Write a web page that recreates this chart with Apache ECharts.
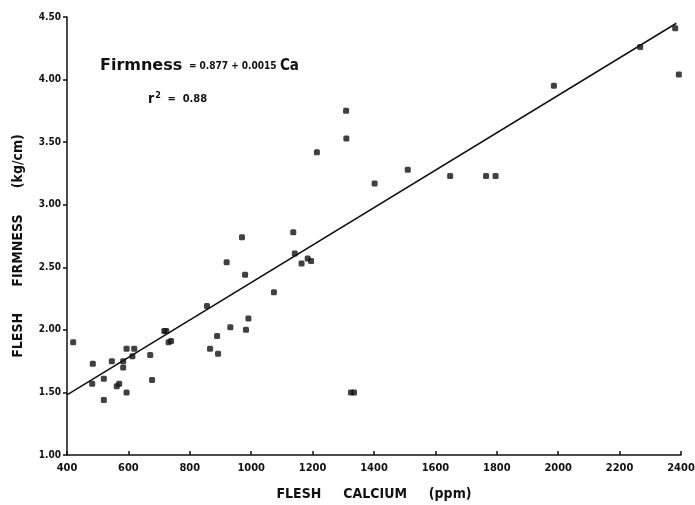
<!DOCTYPE html>
<html>
<head>
<meta charset="utf-8">
<script src="https://cdn.jsdelivr.net/npm/echarts@6/dist/echarts.min.js"></script>
<style>
  html, body { margin: 0; padding: 0; background: #fff; }
  #chart { width: 695px; height: 505px; }
</style>
</head>
<body>
<div id="chart"></div>
<script>
// flesh calcium (ppm) and flesh firmness (kg/cm)
const calcium = [420, 484, 482, 520, 520, 546, 562, 570, 583, 583,
  594, 594, 613, 619, 671, 677, 717, 723, 731, 739,
  856, 866, 889, 892, 920, 932, 970, 980, 983, 991,
  1074, 1137, 1142, 1164, 1184, 1195, 1214, 1310, 1309, 1325,
  1335, 1402, 1510, 1648, 1765, 1796, 1986, 2267, 2381, 2393]
const firmness = [1.90, 1.73, 1.57, 1.61, 1.44, 1.75, 1.55, 1.57, 1.75, 1.70,
  1.50, 1.85, 1.79, 1.85, 1.80, 1.60, 1.99, 1.99, 1.90, 1.91,
  2.19, 1.85, 1.95, 1.81, 2.54, 2.02, 2.74, 2.44, 2.00, 2.09,
  2.30, 2.78, 2.61, 2.53, 2.57, 2.55, 3.42, 3.53, 3.75, 1.50,
  1.50, 3.17, 3.28, 3.23, 3.23, 3.23, 3.95, 4.26, 4.41, 4.04]
// regression line end points
const fitX = [400, 2385]
const fitY = [1.48, 4.45]

const font = 'DejaVu Sans Condensed'

const points = calcium.map((c, i) => [c, firmness[i]])
const fit = fitX.map((x, i) => [x, fitY[i]])

const chart = echarts.init(document.getElementById('chart'))
chart.setOption({
  animation: false,
  backgroundColor: '#fff',
  grid: { left: 67, right: 14, top: 17, bottom: 50, outerBoundsMode: 'none' },
  xAxis: {
    type: 'value',
    min: 400,
    max: 2400,
    interval: 200,
    name: 'FLESH     CALCIUM     (ppm)',
    nameLocation: 'middle',
    nameGap: 32,
    nameTextStyle: { fontFamily: font, fontWeight: 'bold', fontSize: 14, color: '#111' },
    axisLine: { lineStyle: { color: '#111', width: 1.5 } },
    axisTick: { inside: true, length: 4, lineStyle: { color: '#111', width: 1.5 } },
    axisLabel: {
      fontFamily: font, fontWeight: 'bold', fontSize: 11, color: '#111', margin: 8,
      formatter: v => String(v)
    },
    splitLine: { show: false }
  },
  yAxis: {
    type: 'value',
    min: 1,
    max: 4.5,
    interval: 0.5,
    name: 'FLESH      FIRMNESS      (kg/cm)',
    nameLocation: 'middle',
    nameGap: 42,
    nameRotate: 90,
    nameTextStyle: { fontFamily: font, fontWeight: 'bold', fontSize: 14, color: '#111', padding: [0, 20, 0, 0] },
    axisLine: { show: true, lineStyle: { color: '#111', width: 1.5 } },
    axisTick: { show: true, length: 4, lineStyle: { color: '#111', width: 1.5 } },
    axisLabel: {
      fontFamily: font, fontWeight: 'bold', fontSize: 10, color: '#111', margin: 6,
      formatter: v => v.toFixed(2)
    },
    splitLine: { show: false }
  },
  graphic: [
    {
      type: 'text',
      left: 100,
      top: 58,
      style: {
        text: '{a|Firmness}  {b|= 0.877 + 0.0015} {c|Ca}',
        rich: {
          a: { fontFamily: 'DejaVu Sans', fontWeight: 'bold', fontSize: 16, fill: '#111' },
          b: { fontFamily: font, fontWeight: 'bold', fontSize: 10, fill: '#111' },
          c: { fontFamily: font, fontWeight: 'bold', fontSize: 15, fill: '#111' }
        }
      }
    },
    {
      type: 'text',
      left: 148,
      top: 91,
      style: {
        text: '{a|r}{s|2}  {b|=  0.88}',
        rich: {
          a: { fontFamily: font, fontWeight: 'bold', fontSize: 14, fill: '#111' },
          s: { fontFamily: font, fontWeight: 'bold', fontSize: 9, fill: '#111', verticalAlign: 'top', padding: [0, 0, 8, 1] },
          b: { fontFamily: font, fontWeight: 'bold', fontSize: 11, fill: '#111' }
        }
      }
    }
  ],
  series: [
    {
      type: 'line',
      data: fit,
      symbol: 'none',
      lineStyle: { color: '#111', width: 1.5 },
      z: 2
    },
    {
      type: 'scatter',
      data: points,
      symbol: 'roundRect',
      symbolSize: 6,
      itemStyle: { color: '#111' },
      z: 3
    }
  ]
})
</script>
</body>
</html>
